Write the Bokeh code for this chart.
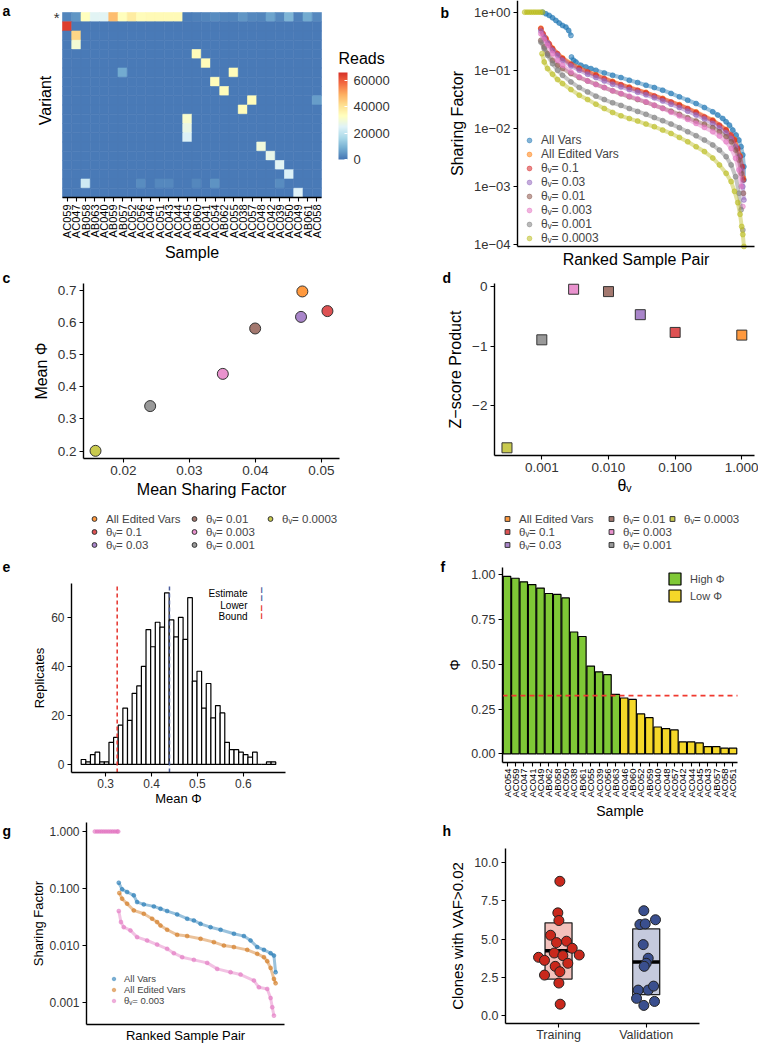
import numpy as np
from bokeh.plotting import figure
from bokeh.models import (ColumnDataSource, LinearColorMapper, ColorBar, FixedTicker,
                          Label, Legend, LegendItem, Range1d, CustomJSTickFormatter)
from bokeh.layouts import row, column
from bokeh.embed import file_html
from bokeh.resources import INLINE

FONT = "Liberation Sans"
SYM = "DejaVu Sans"

# ======================= DATA =======================
# (a) heatmap of reads (row 0 = starred variant)
heat_samples = ["AC059", "AC047", "AB058", "AB063", "AC040", "AB059", "AB057", "AC052",
                "AC056", "AC046", "AC051", "AC043", "AC044", "AC045", "AB060", "AC041",
                "AC054", "AB062", "AC055", "AC038", "AC057", "AC048", "AC042", "AC039",
                "AC050", "AC049", "AB061", "AC058"]
heat_n_variants = 20
heat_background = 900
heat_star_row = [2500, 5000, 33000, 25500, 25500, 47000, 33500, 38000, 34000, 34500,
                 34500, 34500, 34500, 1500, 2000, 2500, 3500, 2500, 2500, 5000,
                 3000, 2500, 7000, 3000, 10000, 2000, 8000, 3000]
heat_cell_row = [1, 2, 3, 4, 5, 6, 6, 7, 8, 9, 9, 10, 11, 12, 13, 14, 15, 16, 17, 18,
                 18, 18, 18, 18, 18, 18, 19]
heat_cell_col = [0, 1, 1, 14, 15, 6, 18, 16, 17, 20, 27, 19, 13, 13, 13, 21, 22, 23, 24, 2,
                 8, 10, 11, 14, 16, 23, 25]
heat_cell_val = [64000, 43000, 30000, 34000, 34000, 8000, 34000, 34000, 34000, 34000,
                 6000, 34000, 31000, 27500, 24000, 29000, 27000, 25500, 24000, 22000,
                 3500, 3000, 3000, 2800, 4500, 3500, 24500]
reads_ticks = [0, 20000, 40000, 60000]
reads_max = 66000

TH = "\u03b8\u1d65= "
series_names = ["All Vars", "All Edited Vars", TH + "0.1", TH + "0.03", TH + "0.01",
                TH + "0.003", TH + "0.001", TH + "0.0003"]
series_colors = ["#1f77b4", "#ff7f0e", "#d62728", "#9467bd", "#8c564b", "#e377c2",
                 "#7f7f7f", "#bcbd22"]

# (b) ranked sample pair sharing factors
b_allvars_rank = [45, 51, 57, 63, 69, 75, 81, 87, 92, 96, 97, 101, 105, 114, 123, 132, 141, 156,
                  171, 186, 201, 216, 231, 246, 261, 276, 291, 306, 321, 336, 351, 360, 369, 375,
                  381, 387, 393, 398, 402, 405, 407, 407]
b_allvars_sf = [1.0, 0.936, 0.877, 0.80, 0.72, 0.648, 0.59, 0.553, 0.485, 0.398, 0.169, 0.148,
                0.139, 0.122, 0.114, 0.107, 0.100, 0.090, 0.082, 0.075, 0.0674, 0.0615, 0.0553,
                0.0505, 0.0454, 0.040, 0.0349, 0.0306, 0.0268, 0.0229, 0.0193, 0.017, 0.0148,
                0.013, 0.0114, 0.00936, 0.00769, 0.0063, 0.00485, 0.0035, 0.0022, 0.0013]
b_edited_rank = [42, 51, 63, 81, 111, 141, 171, 201, 231, 261, 291, 321, 351, 375, 390, 400, 406]
b_edited_sf = [0.53, 0.36, 0.24, 0.163, 0.109, 0.084, 0.0645, 0.0515, 0.0418, 0.0329, 0.0257,
               0.0193, 0.014, 0.0096, 0.0065, 0.0034, 0.0014]
b_t01_rank = [42, 46, 51, 57, 63, 72, 81, 96, 111, 126, 141, 156, 171, 186, 201, 216, 231, 246,
              261, 276, 291, 306, 321, 336, 351, 363, 375, 384, 390, 396, 400, 404, 406]
b_t01_sf = [0.518, 0.425, 0.349, 0.286, 0.235, 0.193, 0.159, 0.127, 0.107, 0.0936, 0.082, 0.0719,
            0.063, 0.0567, 0.0505, 0.0454, 0.0409, 0.0363, 0.0322, 0.0286, 0.0251, 0.022, 0.0188,
            0.0158, 0.0136, 0.0114, 0.00936, 0.00769, 0.0063, 0.00454, 0.00327, 0.0022, 0.0013]
b_t003_rank = [42, 48, 54, 63, 72, 81, 96, 111, 126, 141, 156, 171, 186, 201, 216, 231, 246, 261,
               276, 291, 306, 321, 336, 351, 363, 375, 384, 392, 398, 402, 405, 407]
b_t003_sf = [0.472, 0.373, 0.294, 0.220, 0.181, 0.148, 0.119, 0.10, 0.0855, 0.075, 0.0655, 0.0575,
             0.0518, 0.0466, 0.042, 0.0378, 0.0336, 0.0297, 0.0261, 0.0229, 0.0198, 0.0170,
             0.0145, 0.0122, 0.0102, 0.00841, 0.0067, 0.00485, 0.00327, 0.00193, 0.001, 0.00059]
b_t001_rank = [42, 48, 54, 63, 72, 81, 96, 111, 126, 141, 156, 171, 186, 201, 216, 231, 246, 261,
               276, 291, 306, 321, 336, 351, 363, 375, 384, 392, 398, 402, 406]
b_t001_sf = [0.327, 0.251, 0.193, 0.148, 0.122, 0.107, 0.0877, 0.075, 0.0655, 0.0575, 0.0505,
             0.0443, 0.0394, 0.0349, 0.0314, 0.0283, 0.025, 0.0223, 0.0198, 0.0175, 0.0152,
             0.0134, 0.0118, 0.0103, 0.00877, 0.0072, 0.0059, 0.00424, 0.00286, 0.00169, 0.00077]
b_t0003_rank = [42, 48, 54, 63, 72, 81, 96, 111, 126, 141, 156, 171, 186, 201, 216, 231, 246, 261,
                276, 291, 306, 321, 336, 351, 363, 375, 384, 392, 398, 402, 405]
b_t0003_sf = [0.425, 0.335, 0.268, 0.193, 0.148, 0.122, 0.0936, 0.0769, 0.0655, 0.0567, 0.0505,
              0.0443, 0.0399, 0.0359, 0.0322, 0.0286, 0.025, 0.022, 0.019, 0.0165, 0.0143, 0.0122,
              0.0104, 0.00877, 0.0074, 0.0059, 0.00454, 0.00307, 0.00193, 0.001, 0.000454]
b_t0001_rank = [42, 48, 54, 63, 72, 81, 96, 111, 126, 141, 156, 171, 186, 201, 216, 231, 246, 261,
                276, 291, 306, 321, 336, 351, 363, 375, 384, 392, 398, 402, 405]
b_t0001_sf = [0.306, 0.235, 0.181, 0.130, 0.10, 0.082, 0.0632, 0.0505, 0.0425, 0.0359, 0.0314,
              0.0276, 0.0249, 0.022, 0.0196, 0.0175, 0.0154, 0.0136, 0.0119, 0.0103, 0.00877,
              0.0075, 0.0063, 0.0052, 0.00424, 0.00327, 0.00236, 0.00148, 0.00077, 0.0004, 0.00018]
b_t00003_rank = [13, 17, 21, 25, 29, 33, 37, 41, 45, 44, 48, 54, 63, 72, 81, 96, 111, 126, 141,
                 156, 171, 186, 201, 216, 231, 246, 261, 276, 291, 306, 321, 336, 351, 363, 375,
                 384, 390, 396, 400, 403, 405, 407]
b_t00003_sf = [1, 1, 1, 1, 1, 1, 1, 1, 1, 0.193, 0.139, 0.107, 0.0855, 0.0693, 0.0591, 0.0466,
               0.0373, 0.0314, 0.0261, 0.022, 0.0188, 0.0165, 0.0148, 0.0134, 0.0119, 0.0107,
               0.00936, 0.0082, 0.007, 0.0059, 0.00485, 0.004, 0.0031, 0.00236, 0.00169, 0.00122,
               0.00083, 0.00053, 0.000335, 0.000206, 0.00015, 0.0000936]

# (c) mean sharing factor vs mean phi (All Edited Vars .. theta 0.0003)
c_mean_sf = [0.0471, 0.0509, 0.0469, 0.03995, 0.03505, 0.02404, 0.01576]
c_mean_phi = [0.696, 0.635, 0.617, 0.581, 0.440, 0.340, 0.201]

# (d) z-score product vs theta_V
d_theta = [1.0, 0.1, 0.03, 0.01, 0.003, 0.001, 0.0003]
d_zscore = [-0.815, -0.77, -0.47, -0.08, -0.04, -0.895, -2.72]

# (e) bootstrap histogram of mean phi
e_bin_start = 0.2465
e_bin_width = 0.0101
e_counts = [2, 1, 4, 5, 1, 1, 9, 11, 16, 23, 18, 29, 32, 40, 55, 48, 58, 56, 70, 59,
            52, 60, 51, 68, 34, 38, 23, 33, 19, 24, 21, 9, 6, 6, 5, 4, 3, 5, 0, 0, 1, 1]
e_estimate = 0.439
e_lower_bound = 0.325

# (f) per-sample phi
f_samples = ["AC054", "AC059", "AC047", "AC041", "AC049", "AB062", "AB058", "AC050", "AC038",
             "AB061", "AC055", "AC039", "AC056", "AB063", "AC046", "AB060", "AC052", "AB059",
             "AC040", "AC048", "AC057", "AC042", "AC044", "AC045", "AC043", "AB057", "AC058",
             "AC051"]
f_phi = [0.99, 0.98, 0.96, 0.945, 0.925, 0.895, 0.89, 0.87, 0.68, 0.655, 0.49, 0.458, 0.442,
         0.332, 0.312, 0.304, 0.223, 0.202, 0.150, 0.141, 0.134, 0.067, 0.067, 0.061, 0.041,
         0.041, 0.032, 0.032]
f_threshold = 0.325

# (g) ranked sample pairs, three variant sets
g_allvars_rank = [58, 64, 73, 85, 91, 103, 121, 133, 145, 163, 181, 193, 205, 223, 241, 265, 283,
                  295, 307, 319, 331, 337, 340]
g_allvars_sf = [0.127, 0.0973, 0.0874, 0.0764, 0.0583, 0.0531, 0.049, 0.0446, 0.0406, 0.0355,
                0.0298, 0.0278, 0.0243, 0.0212, 0.0191, 0.0163, 0.0148, 0.0124, 0.0095, 0.0085,
                0.00743, 0.00676, 0.00345]
g_edited_rank = [59, 64, 73, 85, 103, 118, 127, 133, 145, 163, 181, 205, 229, 247, 265, 289, 307,
                 319, 325, 331, 337, 340]
g_edited_sf = [0.0839, 0.0668, 0.0546, 0.0417, 0.0364, 0.0298, 0.026, 0.0227, 0.0191, 0.0156,
               0.0148, 0.0133, 0.0116, 0.0101, 0.0095, 0.0085, 0.00724, 0.00633, 0.00538,
               0.00411, 0.00264, 0.00221]
g_t0003_rank = [15, 19, 23, 27, 31, 35, 39, 43, 47, 51, 55, 57, 58, 62, 67, 79, 91, 109, 127, 145,
                157, 172, 193, 217, 235, 259, 277, 301, 310, 325, 331, 334, 337]
g_t0003_sf = [1, 1, 1, 1, 1, 1, 1, 1, 1, 1, 1, 1, 0.0406, 0.026, 0.0212, 0.0186, 0.0142, 0.0124,
              0.0105, 0.00885, 0.00743, 0.00633, 0.00568, 0.00503, 0.00395, 0.00345, 0.00314,
              0.00247, 0.00188, 0.00176, 0.00122, 0.00084, 0.0006]

# (h) clones with VAF > 0.02
h_groups = ["Training", "Validation"]
h_train_vals = [8.78, 6.72, 6.22, 5.26, 4.87, 4.78, 4.41, 3.97, 3.82, 4.10, 3.93, 3.62, 3.43,
                3.23, 2.88, 2.66, 2.14, 0.76]
h_train_jitter = [0.015, -0.008, 0.004, -0.091, 0.091, -0.023, 0.156, 0.236, -0.228, -0.049,
                  0.049, -0.160, 0.106, -0.038, 0.015, -0.160, 0.004, 0.019]
h_valid_vals = [6.86, 5.96, 6.0, 6.27, 4.65, 3.76, 3.43, 3.23, 1.68, 1.68, 1.94, 1.14, 0.94, 0.68]
h_valid_jitter = [-0.027, -0.072, -0.011, 0.106, -0.034, 0.023, 0.0, -0.023, -0.091, 0.023,
                  0.084, -0.110, 0.095, -0.027]
h_box_low = [2.40, 1.38]
h_box_mid = [4.24, 3.52]
h_box_high = [6.07, 5.68]


# ======================= HELPERS =======================
def _ext(vis, a, b, total, log):
    lo, hi = vis
    if log:
        lo, hi = np.log10(lo), np.log10(hi)
    s = (hi - lo) / (b - a)
    r0, r1 = lo - a * s, hi + (total - b) * s
    return (10 ** r0, 10 ** r1) if log else (r0, r1)


def panel(fig_xy, W, H, frame, xvis, yvis, xlog=False, ylog=False):
    """frame = (left, top, right, bottom) of the plot area in page pixels.
    The bokeh frame covers the whole canvas; axes sit at fixed locations."""
    fx, fy = fig_xy
    L, T, R, B = frame[0] - fx, frame[1] - fy, frame[2] - fx, frame[3] - fy
    xr = _ext(xvis, L, R, W, xlog)
    yr = _ext(yvis, H - B, H - T, H, ylog)
    p = figure(width=W, height=H, toolbar_location=None, output_backend="svg",
               x_range=Range1d(*xr), y_range=Range1d(*yr),
               x_axis_type="log" if xlog else "linear",
               y_axis_type="log" if ylog else "linear",
               min_border=0, min_border_left=0, min_border_right=0,
               min_border_top=0, min_border_bottom=0)
    p.outline_line_color = None
    p.xgrid.visible = False
    p.ygrid.visible = False
    p.background_fill_color = "white"
    p.border_fill_color = "white"
    p.xaxis.fixed_location = yvis[0]
    p.yaxis.fixed_location = xvis[0]
    p.xaxis.bounds = tuple(xvis)
    p.yaxis.bounds = tuple(yvis)
    p._fig_xy = (fx, fy, H)
    return p


def style_axes(p, tick_fs, label_fs):
    for ax in p.axis:
        ax.axis_line_color = "black"
        ax.axis_line_width = 1.4
        ax.major_tick_line_color = "black"
        ax.major_tick_line_width = 1.1
        ax.major_tick_out = 4
        ax.major_tick_in = 0
        ax.minor_tick_line_color = None
        ax.major_label_text_font = FONT
        ax.major_label_text_font_size = tick_fs
        ax.major_label_text_color = "#333333"
        ax.major_label_standoff = 3
        ax.axis_label_text_font = FONT
        ax.axis_label_text_font_size = label_fs
        ax.axis_label_text_font_style = "normal"
        ax.axis_label_text_color = "black"
        ax.axis_label_standoff = 5


def text_at(p, txt, px, py, size="14px", bold=False, align="left", color="black",
            font=FONT, angle=0.0):
    fx, fy, H = p._fig_xy
    p.add_layout(Label(x=px - fx, y=fy + H - py, x_units="screen", y_units="screen",
                       text=txt, text_font=font, angle=angle,
                       text_font_style="bold" if bold else "normal", text_font_size=size,
                       text_align=align, text_baseline="middle", text_color=color))


def legend_at(p, items, px_left, py_bottom, **kw):
    fx, fy, H = p._fig_xy
    leg = Legend(items=items, location=(px_left - fx, fy + H - py_bottom), padding=0,
                 margin=0, background_fill_alpha=0, border_line_alpha=0,
                 label_text_font=FONT, **kw)
    p.add_layout(leg)
    return leg


def hex_to_rgb(h):
    return [int(h[i:i + 2], 16) for i in (1, 3, 5)]


def interp_palette(anchors, n):
    rgb = np.array([hex_to_rgb(a) for a in anchors], float)
    pos = np.linspace(0, 1, len(anchors))
    out = []
    for t in np.linspace(0, 1, n):
        c = [np.interp(t, pos, rgb[:, k]) for k in range(3)]
        out.append("#%02x%02x%02x" % tuple(int(round(v)) for v in c))
    return out


def break_jumps(xv, yv):
    xo, yo = [xv[0]], [yv[0]]
    for i in range(1, len(xv)):
        if abs(np.log10(yv[i]) - np.log10(yv[i - 1])) > 0.3:
            xo.append(np.nan)
            yo.append(np.nan)
        xo.append(xv[i])
        yo.append(yv[i])
    return xo, yo


log_fmt = CustomJSTickFormatter(code="""
const s = tick.toExponential(0).split('e');
let d = s[1].slice(1); if (d.length < 2) { d = '0' + d; }
return s[0] + 'e' + (s[1][0] == '-' ? '\u2212' : '+') + d;
""")
fix0 = CustomJSTickFormatter(code="return tick.toFixed(0);")
fix1 = CustomJSTickFormatter(code="return tick.toFixed(1);")
fix2 = CustomJSTickFormatter(code="return tick.toFixed(2);")
fix3 = CustomJSTickFormatter(code="return tick.toFixed(3);")

LEG3 = dict(orientation="vertical", nrows=3, spacing=0, glyph_width=12, glyph_height=13,
            label_height=13, label_standoff=6, label_text_font_size="11.5px")

# ======================= (a) =======================
n_s = len(heat_samples)
A_X = (-0.5, n_s - 0.5)
A_Y = (-0.5, heat_n_variants - 0.5)
pa = panel((0, 0), 395, 268, (62, 12, 321, 197), A_X, A_Y)
grid = np.full((heat_n_variants, n_s), float(heat_background))
grid[0, :] = heat_star_row
for r, c, v in zip(heat_cell_row, heat_cell_col, heat_cell_val):
    grid[r, c] = v
hx, hy, hv = [], [], []
for r in range(heat_n_variants):
    for c in range(n_s):
        hx.append(c)
        hy.append(heat_n_variants - 1 - r)
        hv.append(grid[r, c])
palette = interp_palette(["#4575b4", "#74add1", "#abd9e9", "#e0f3f8", "#ffffbf", "#fee090",
                          "#fdae61", "#f46d43", "#d73027"], 256)
mapper = LinearColorMapper(palette=palette, low=0, high=reads_max)
pa.rect(x="x", y="y", width=1, height=1, source=ColumnDataSource(dict(x=hx, y=hy, v=hv)),
        fill_color={"field": "v", "transform": mapper},
        line_color={"field": "v", "transform": mapper}, line_width=0.6)
style_axes(pa, "11px", "16px")
pa.xaxis.ticker = FixedTicker(ticks=list(range(n_s)))
pa.xaxis.major_label_overrides = {i: s for i, s in enumerate(heat_samples)}
pa.xaxis.major_label_orientation = np.pi / 2
pa.xaxis.major_label_text_color = "black"
pa.xaxis.axis_label = "Sample"
pa.xaxis.axis_label_standoff = 3
pa.yaxis.ticker = FixedTicker(ticks=[heat_n_variants - 1])
pa.yaxis.major_label_overrides = {heat_n_variants - 1: "*"}
pa.yaxis.major_label_text_font_size = "15px"
pa.yaxis.axis_line_color = None
pa.yaxis.major_tick_line_color = None
pa.yaxis.major_tick_out = 0
text_at(pa, "Variant", 45, 100, size="16px", align="center", angle=np.pi / 2)
cb = ColorBar(color_mapper=mapper, ticker=FixedTicker(ticks=reads_ticks), formatter=fix0,
              width=9, height=87, orientation="vertical",
              major_label_text_font=FONT, major_label_text_font_size="13px",
              major_label_text_color="#333333", label_standoff=6,
              major_tick_line_color="white", major_tick_in=3, major_tick_out=0,
              bar_line_color=None, padding=0, background_fill_alpha=0,
              location=(338, 268 - 159))
pa.add_layout(cb)
text_at(pa, "Reads", 338, 58, size="16px")
text_at(pa, "a", 2, 10, size="14px", bold=True)

# ======================= (b) =======================
B_X = (0, 426)
B_Y = (10 ** -4.03, 10 ** 0.2)
pb = panel((395, 0), 363, 268, (517, 0, 754, 246), B_X, B_Y, ylog=True)
b_series = [(b_allvars_rank, b_allvars_sf), (b_edited_rank, b_edited_sf),
            (b_t01_rank, b_t01_sf), (b_t003_rank, b_t003_sf), (b_t001_rank, b_t001_sf),
            (b_t0003_rank, b_t0003_sf), (b_t0001_rank, b_t0001_sf),
            (b_t00003_rank, b_t00003_sf)]
b_items = []
for (xr, yr), name, col in zip(b_series, series_names, series_colors):
    lx, ly = break_jumps(xr, yr)
    pb.line(lx, ly, line_color=col, line_width=4, line_alpha=0.45)
    rr = pb.scatter(xr, yr, size=5, fill_color=col, fill_alpha=0.55, line_color=col,
                    line_alpha=0.8, line_width=0.6)
    b_items.append(LegendItem(label=name, renderers=[rr]))
style_axes(pb, "13px", "16px")
pb.yaxis.ticker = FixedTicker(ticks=[1e-4, 1e-3, 1e-2, 1e-1, 1])
pb.yaxis.formatter = log_fmt
pb.yaxis.axis_label = "Sharing Factor"
pb.xaxis.ticker = FixedTicker(ticks=[])
pb.xaxis.major_tick_line_color = None
pb.xaxis.axis_label = "Ranked Sample Pair"
pb.xaxis.axis_label_standoff = 4
legend_at(pb, b_items, 523, 245, spacing=0, glyph_width=12, glyph_height=12,
          label_height=12, label_standoff=6, label_text_font_size="12px")
text_at(pb, "b", 440, 12, size="14px", bold=True)

# ======================= (c) =======================
C_X = (0.01394, 0.05273)
C_Y = (0.1772, 0.7207)
pc = panel((0, 268), 379, 287, (83, 283, 339, 458), C_X, C_Y)
c_items = []
for i in range(len(c_mean_sf)):
    rr = pc.scatter([c_mean_sf[i]], [c_mean_phi[i]], size=11, fill_color=series_colors[i + 1],
                    fill_alpha=0.8, line_color="#333333", line_width=1)
    c_items.append(LegendItem(label=series_names[i + 1], renderers=[rr]))
style_axes(pc, "13.5px", "16px")
pc.xaxis.ticker = FixedTicker(ticks=[0.02, 0.03, 0.04, 0.05])
pc.yaxis.ticker = FixedTicker(ticks=[0.2, 0.3, 0.4, 0.5, 0.6, 0.7])
pc.xaxis.formatter = fix2
pc.yaxis.formatter = fix1
pc.xaxis.axis_label = "Mean Sharing Factor"
pc.xaxis.axis_label_standoff = 3
pc.yaxis.axis_label = "Mean \u03a6"
legend_at(pc, c_items[:6], 88, 551, label_width=82, **LEG3)
legend_at(pc, c_items[6:], 264, 525, label_width=40, **LEG3)
text_at(pc, "c", 2, 277, size="14px", bold=True)

# ======================= (d) =======================
D_X = (0.000195, 1.55)
D_Y = (-2.85, 0.057)
pd_ = panel((379, 268), 379, 287, (494, 283, 754, 455), D_X, D_Y, xlog=True)
d_items = []
for i in range(len(d_theta)):
    rr = pd_.scatter([d_theta[i]], [d_zscore[i]], marker="square", size=10,
                     fill_color=series_colors[i + 1], fill_alpha=0.8, line_color="#333333",
                     line_width=1)
    d_items.append(LegendItem(label=series_names[i + 1], renderers=[rr]))
style_axes(pd_, "13.5px", "16px")
pd_.xaxis.ticker = FixedTicker(ticks=[0.001, 0.01, 0.1, 1])
pd_.xaxis.formatter = fix3
pd_.yaxis.ticker = FixedTicker(ticks=[-2, -1, 0])
pd_.yaxis.major_label_overrides = {-2: "\u22122", -1: "\u22121", 0: "0"}
pd_.xaxis.axis_label = "\u03b8\u1d65"
pd_.xaxis.axis_label_standoff = 2
pd_.yaxis.axis_label = "Z\u2212score Product"
legend_at(pd_, d_items[:6], 501, 551, label_width=86, **LEG3)
legend_at(pd_, d_items[6:], 666, 525, label_width=40, **LEG3)
text_at(pd_, "d", 442, 277, size="14px", bold=True)

# ======================= (e) =======================
E_X = (0.2254, 0.692)
E_Y = (-3.3, 73.8)
pe = panel((0, 555), 379, 266, (71, 583, 285, 772), E_X, E_Y)
e_left = [e_bin_start + i * e_bin_width for i in range(len(e_counts))]
e_right = [l + e_bin_width for l in e_left]
pe.quad(left=e_left, right=e_right, bottom=0, top=e_counts, fill_color="white",
        line_color="black", line_width=1.2)
pe.segment(x0=[e_lower_bound], x1=[e_lower_bound], y0=[E_Y[0]], y1=[E_Y[1]],
           line_color="#e5322b", line_dash="4 3", line_width=1.5)
pe.segment(x0=[e_estimate], x1=[e_estimate], y0=[E_Y[0]], y1=[E_Y[1]],
           line_color="#4a5c9c", line_dash="4 3", line_width=1.5)
style_axes(pe, "12px", "13px")
pe.xaxis.ticker = FixedTicker(ticks=[0.3, 0.4, 0.5, 0.6])
pe.xaxis.formatter = fix1
pe.xaxis.major_label_standoff = 2
pe.xaxis.axis_label_standoff = 0
pe.yaxis.ticker = FixedTicker(ticks=[0, 20, 40, 60])
pe.yaxis.axis_label_standoff = 1
pe.xaxis.axis_label = "Mean \u03a6"
pe.yaxis.axis_label = "Replicates"
text_at(pe, "Estimate", 247, 593, size="10px", align="right")
text_at(pe, "Lower", 247, 605, size="10px", align="right")
text_at(pe, "Bound", 247, 615.5, size="10px", align="right")
text_at(pe, "\u254e", 261, 593, size="14px", align="center", color="#4a5c9c", font=SYM)
text_at(pe, "\u254e", 261, 611, size="14px", align="center", color="#e5322b", font=SYM)
text_at(pe, "e", 2, 566, size="14px", bold=True)

# ======================= (f) =======================
F_X = (-0.54, len(f_samples) - 1 + 0.54)
F_Y = (-0.048, 1.04)
pf = panel((379, 555), 379, 266, (502, 567, 737, 762), F_X, F_Y)
f_pos = list(range(len(f_samples)))
n_high = sum(1 for v in f_phi if v > f_threshold)
r_hi = pf.vbar(x=f_pos[:n_high], top=f_phi[:n_high], width=0.9, fill_color="#7fc836",
               line_color="black", line_width=1.2)
r_lo = pf.vbar(x=f_pos[n_high:], top=f_phi[n_high:], width=0.9, fill_color="#f5d829",
               line_color="black", line_width=1.2)
pf.segment(x0=[F_X[0]], x1=[F_X[1]], y0=[f_threshold], y1=[f_threshold],
           line_color="#f0392f", line_dash="5 4", line_width=1.7)
style_axes(pf, "12.5px", "14px")
pf.yaxis.ticker = FixedTicker(ticks=[0, 0.25, 0.5, 0.75, 1.0])
pf.yaxis.formatter = fix2
pf.xaxis.ticker = FixedTicker(ticks=f_pos)
pf.xaxis.major_label_overrides = {i: s for i, s in enumerate(f_samples)}
pf.xaxis.major_label_orientation = np.pi / 2
pf.xaxis.major_label_text_font_size = "9.5px"
pf.xaxis.major_label_text_color = "black"
pf.xaxis.major_label_standoff = 2
pf.xaxis.axis_label = "Sample"
pf.xaxis.axis_label_standoff = 2
pf.yaxis.axis_label = "\u03a6"
legend_at(pf, [LegendItem(label="High \u03a6", renderers=[r_hi]),
               LegendItem(label="Low \u03a6", renderers=[r_lo])],
          667, 603, spacing=2, glyph_width=15, glyph_height=15, label_height=15,
          label_standoff=8, label_text_font_size="11px")
text_at(pf, "f", 440, 566, size="14px", bold=True)

# ======================= (g) =======================
G_X = (0, 356)
G_Y = (0.00042, 1.44)
pg = panel((0, 821), 379, 222, (86, 822, 284, 1024), G_X, G_Y, ylog=True)
g_series = [(g_allvars_rank, g_allvars_sf), (g_edited_rank, g_edited_sf),
            (g_t0003_rank, g_t0003_sf)]
g_names = [series_names[0], series_names[1], series_names[5]]
g_cols = ["#1f77b4", "#d2781e", "#e377c2"]
g_items = []
for (xr, yr), name, col in zip(g_series, g_names, g_cols):
    lx, ly = break_jumps(xr, yr)
    pg.line(lx, ly, line_color=col, line_width=3, line_alpha=0.45)
    rr = pg.scatter(xr, yr, size=4, fill_color=col, fill_alpha=0.6, line_color=col,
                    line_alpha=0.8, line_width=0.5)
    g_items.append(LegendItem(label=name, renderers=[rr]))
style_axes(pg, "12px", "13px")
pg.yaxis.ticker = FixedTicker(ticks=[0.001, 0.01, 0.1, 1])
pg.yaxis.formatter = fix3
pg.yaxis.axis_label = "Sharing Factor"
pg.yaxis.axis_label_standoff = 0
pg.xaxis.ticker = FixedTicker(ticks=[])
pg.xaxis.major_tick_line_color = None
pg.xaxis.axis_label = "Ranked Sample Pair"
pg.xaxis.axis_label_standoff = 3
legend_at(pg, g_items, 108, 1006, spacing=0, glyph_width=11, glyph_height=9,
          label_height=9, label_standoff=5, label_text_font_size="9.5px")
text_at(pg, "g", 2, 830, size="14px", bold=True)

# ======================= (h) =======================
H_X = (0.395, 2.608)
H_Y = (-0.5, 10.92)
ph = panel((379, 821), 379, 222, (505, 848, 699, 1023), H_X, H_Y)
h_pos = [1, 2]
ph.quad(left=[p - 0.154 for p in h_pos], right=[p + 0.154 for p in h_pos],
        bottom=h_box_low, top=h_box_high, fill_color=["#f3c1bc", "#c5cadd"],
        line_color="#222222", line_width=1.3)
ph.segment(x0=[p - 0.154 for p in h_pos], x1=[p + 0.154 for p in h_pos], y0=h_box_mid,
           y1=h_box_mid, line_color="black", line_width=3.5)
ph.scatter([h_pos[0] + d for d in h_train_jitter], h_train_vals, size=10,
           fill_color="#c9281c", line_color="#222222", line_width=1)
ph.scatter([h_pos[1] + d for d in h_valid_jitter], h_valid_vals, size=10,
           fill_color="#3a4f8e", line_color="#222222", line_width=1)
style_axes(ph, "12.5px", "15px")
ph.xaxis.ticker = FixedTicker(ticks=h_pos)
ph.xaxis.major_label_overrides = {1: h_groups[0], 2: h_groups[1]}
ph.xaxis.major_label_standoff = 0
ph.yaxis.ticker = FixedTicker(ticks=[0, 2.5, 5, 7.5, 10])
ph.yaxis.formatter = fix1
ph.yaxis.axis_label = "Clones with VAF>0.02"
text_at(ph, "h", 442, 830, size="14px", bold=True)

layout = column(row(pa, pb), row(pc, pd_), row(pe, pf), row(pg, ph))
open("out.html", "w").write(file_html(layout, INLINE))
